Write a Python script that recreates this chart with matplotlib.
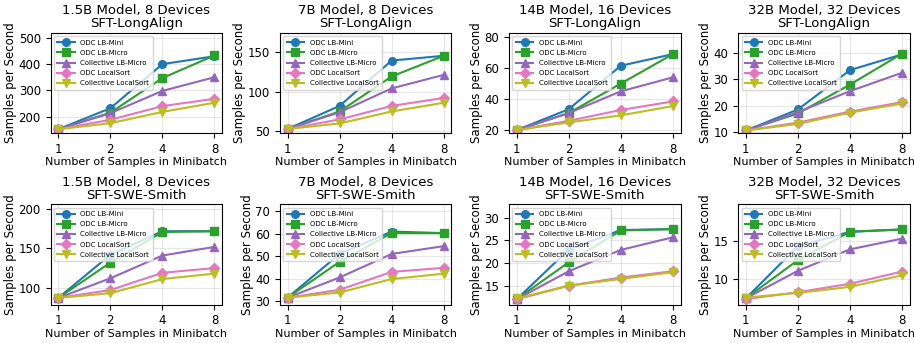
import matplotlib.pyplot as plt
import numpy as np

batch_sizes = [1, 2, 4, 8]
methods = ['ODC LB-Mini', 'ODC LB-Micro', 'Collective LB-Micro', 'ODC LocalSort', 'Collective LocalSort']
colors = ['tab:blue', 'tab:green', 'tab:purple', 'tab:pink', 'tab:olive']
markers = ['o', 's', '^', 'D', 'v']

titles = ['1.5B Model, 8 Devices', '7B Model, 8 Devices', '14B Model, 16 Devices', '32B Model, 32 Devices']
datasets = ['SFT-LongAlign', 'SFT-SWE-Smith']

# samples per second, one list per method
longalign_15b = [[152, 232, 400, 430], [152, 215, 347, 433], [152, 213, 298, 350], [152, 188, 240, 268], [152, 175, 218, 253]]
longalign_7b = [[53, 82, 139, 145], [53, 75, 119, 145], [53, 74, 104, 121], [53, 65, 82, 92], [53, 60, 75, 86]]
longalign_14b = [[20, 33.5, 61.5, 69], [20, 31, 50, 69], [20, 31, 45, 54], [20, 26, 33, 38.5], [20, 25, 29.5, 35.5]]
longalign_32b = [[10.5, 18.5, 33.5, 39.5], [10.5, 17, 28, 39.8], [10.5, 17.5, 25.5, 32.5], [10.5, 13.5, 17.7, 21.3], [10.5, 13, 17.3, 20.8]]

swe_15b = [[87, 142, 172, 172], [87, 132, 171, 172], [87, 112, 141, 152], [87, 97, 119, 125], [87, 93, 111, 118]]
swe_7b = [[31.5, 51, 61, 60.3], [31.5, 47.5, 60.3, 60.3], [31.5, 40.5, 51, 54.5], [31.5, 35, 43, 44.8], [31.5, 33.8, 39.8, 42.2]]
swe_14b = [[12, 23, 27.3, 27.5], [12, 20.2, 27.2, 27.5], [12, 18.2, 22.9, 25.7], [12, 15, 16.8, 18.2], [12.2, 15, 16.5, 18]]
swe_32b = [[7.5, 14.3, 16.2, 16.5], [7.5, 12.5, 16.2, 16.5], [7.5, 11.1, 13.9, 15.3], [7.4, 8.3, 9.4, 11], [7.6, 8.2, 9.0, 10.5]]

all_data = [[longalign_15b, longalign_7b, longalign_14b, longalign_32b],
            [swe_15b, swe_7b, swe_14b, swe_32b]]

# y tick spacing per panel
ytick_steps = [[100, 50, 20, 10], [50, 10, 5, 5]]

fig, axes = plt.subplots(2, 4, figsize=(9.14, 3.43), dpi=100)
x = np.arange(len(batch_sizes))

for r in range(2):
    for c in range(4):
        ax = axes[r][c]
        data = all_data[r][c]
        for i, m in enumerate(methods):
            ax.plot(x, data[i], color=colors[i], marker=markers[i], label=m,
                    linewidth=1.5, markersize=5.5)
        lo = min(min(d) for d in data)
        hi = max(max(d) for d in data)
        ax.set_ylim(lo * 0.9, hi * 1.2)
        ax.yaxis.set_major_locator(plt.MultipleLocator(ytick_steps[r][c]))
        ax.set_xticks(x)
        ax.set_xticklabels([str(b) for b in batch_sizes])
        ax.tick_params(labelsize=8.5)
        ax.grid(True, alpha=0.3)
        ax.set_title(titles[c] + '\n' + datasets[r], fontsize=9.5, linespacing=1.0, pad=4)
        ax.set_xlabel('Number of Samples in Minibatch', fontsize=8, labelpad=1)
        ax.set_ylabel('Samples per Second', fontsize=8.5, labelpad=1)
        ax.legend(loc='upper left', fontsize=5, handlelength=2.5, borderpad=0.5, labelspacing=0.6)

plt.tight_layout(pad=0.3, w_pad=0.8, h_pad=0.6)
plt.savefig('out.png')
